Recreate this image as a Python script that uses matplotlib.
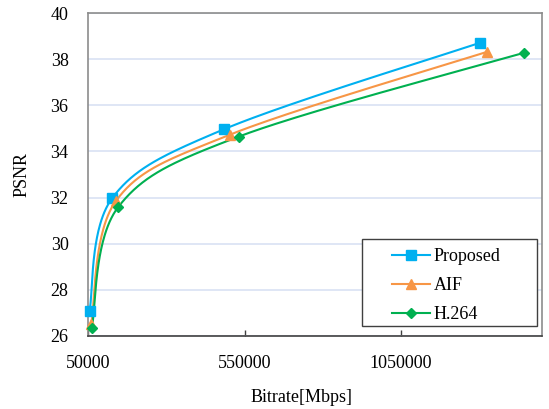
import numpy as np
import matplotlib
matplotlib.use("Agg")
import matplotlib.pyplot as plt
from matplotlib.lines import Line2D
from matplotlib.patches import Rectangle

series_names = ["Proposed", "AIF", "H.264"]
proposed_bitrate = [55000, 127000, 484000, 1302000]
proposed_psnr = [27.1, 31.97, 34.96, 38.71]
aif_bitrate = [60000, 139000, 502000, 1325000]
aif_psnr = [26.5, 31.85, 34.72, 38.32]
h264_bitrate = [62000, 146000, 531000, 1444000]
h264_psnr = [26.35, 31.58, 34.64, 38.28]
x_ticks = [50000, 550000, 1050000]
y_ticks = [26, 28, 30, 32, 34, 36, 38, 40]

colors = ["#00B0F0", "#F79646", "#00B050"]
markers = ["s", "^", "D"]
msizes = [7, 7, 5.5]

plt.rcParams['font.family'] = ['Liberation Serif', 'DejaVu Serif']

W, H = 549, 409
fig = plt.figure(figsize=(W / 100, H / 100), dpi=100)
ax = fig.add_axes([88 / W, 1 - 336 / H, (542 - 88) / W, (336 - 13) / H])
xmin, xmax = 50000, 1500000
ymin, ymax = 26, 40
ax.set_xlim(xmin, xmax)
ax.set_ylim(ymin, ymax)

axw, axh = 542 - 88, 336 - 13


def smooth(xs, ys, n=60):
    # Excel-like smoothed line (Catmull-Rom Bezier) computed in pixel space
    px = (np.asarray(xs, float) - xmin) / (xmax - xmin) * axw
    py = (np.asarray(ys, float) - ymin) / (ymax - ymin) * axh
    P = np.column_stack([px, py])
    Pe = np.vstack([P[0], P, P[-1]])
    out = []
    t = np.linspace(0, 1, n)[:, None]
    for i in range(len(P) - 1):
        p0, p1, p2, p3 = Pe[i], Pe[i + 1], Pe[i + 2], Pe[i + 3]
        c1 = p1 + (p2 - p0) / 6
        c2 = p2 - (p3 - p1) / 6
        seg = ((1 - t) ** 3) * p1 + 3 * ((1 - t) ** 2) * t * c1 + 3 * (1 - t) * t ** 2 * c2 + t ** 3 * p2
        out.append(seg)
    S = np.vstack(out)
    sx = S[:, 0] / axw * (xmax - xmin) + xmin
    sy = S[:, 1] / axh * (ymax - ymin) + ymin
    return sx, sy


data = [(proposed_bitrate, proposed_psnr), (aif_bitrate, aif_psnr), (h264_bitrate, h264_psnr)]
handles = []
for (xs, ys), c, m, ms, name in zip(data, colors, markers, msizes, series_names):
    sx, sy = smooth(xs, ys)
    ax.plot(sx, sy, color=c, lw=1.5, zorder=3, clip_on=False)
    ax.plot(xs, ys, ls='none', marker=m, color=c, ms=ms, zorder=4, clip_on=False)
    handles.append(Line2D([], [], color=c, lw=1.5, marker=m, ms=ms, label=name))

ax.set_yticks(y_ticks)
ax.set_xticks(x_ticks)
ax.set_xticklabels([str(v) for v in x_ticks])
ax.grid(axis='y', color='#D9E2F3', lw=1.2, zorder=0)
ax.set_axisbelow(True)
ax.tick_params(axis='y', length=0, pad=14, labelsize=13)
ax.tick_params(axis='x', direction='in', length=4, width=1, color='#404040', pad=14, labelsize=13)

for s in ['left', 'top', 'right']:
    ax.spines[s].set_color('#8C8C8C')
    ax.spines[s].set_linewidth(1.2)
ax.spines['bottom'].set_color('#404040')
ax.spines['bottom'].set_linewidth(1.2)

fig.text(21.7 / W, 1 - 175 / H, "PSNR", rotation=90, ha='center', va='center', fontsize=13)
fig.text(302 / W, 1 - 397 / H, "Bitrate[Mbps]", ha='center', va='center', fontsize=13)

# legend frame
fig.patches.append(Rectangle((362 / W, 1 - 326 / H), (537 - 362) / W, (326 - 239) / H,
                             transform=fig.transFigure, facecolor='white',
                             edgecolor='#404040', lw=1.0, zorder=5))
leg = fig.legend(handles=handles, loc='upper left',
                 bbox_to_anchor=(392 / W, 1 - 248 / H),
                 frameon=False, fontsize=13,
                 handlelength=2.1, borderpad=0, labelspacing=0.66, handletextpad=0.2,
                 borderaxespad=0)
leg.set_zorder(6)

fig.savefig("out.png", dpi=100)
